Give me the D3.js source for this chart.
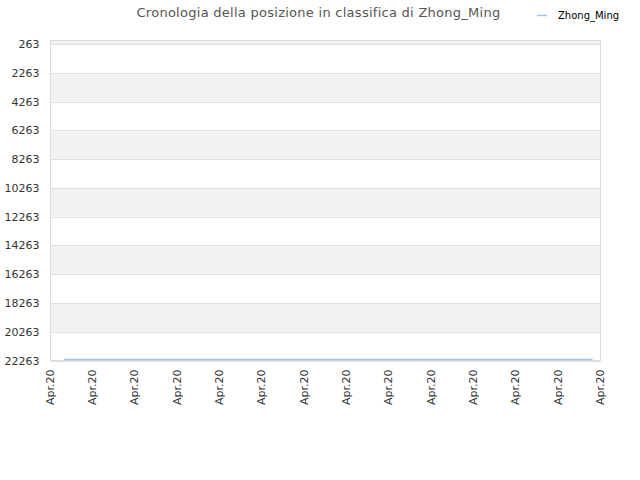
<!DOCTYPE html>
<html><head><meta charset="utf-8">
<script src="https://cdn.jsdelivr.net/npm/d3@7"></script>
<style>body{margin:0;background:#fff;}text{font-family:"DejaVu Sans",sans-serif;}</style>
</head><body><svg id="c" width="640" height="480"></svg>
<script>
const title = "Cronologia della posizione in classifica di Zhong_Ming";
const seriesName = "Zhong_Ming";
const dates = ["2020-04-01T15:00","2020-04-02T15:00","2020-04-03T15:00","2020-04-04T15:00","2020-04-05T15:00","2020-04-06T15:00","2020-04-07T15:00","2020-04-08T15:00","2020-04-09T15:00","2020-04-10T15:00","2020-04-11T15:00","2020-04-12T15:00","2020-04-13T15:00","2020-04-14T15:00","2020-04-15T15:00","2020-04-16T15:00","2020-04-17T15:00","2020-04-18T15:00","2020-04-19T15:00","2020-04-20T15:00","2020-04-21T15:00","2020-04-22T15:00","2020-04-23T15:00","2020-04-24T15:00","2020-04-25T15:00","2020-04-26T15:00"];
const ranks = [22190,22190,22190,22190,22190,22190,22190,22190,22190,22190,22190,22190,22190,22190,22190,22190,22190,22190,22190,22190,22190,22190,22190,22190,22190,22190];
const yTicks = [263,2263,4263,6263,8263,10263,12263,14263,16263,18263,20263,22263];
const xTickLabels = ["Apr.20","Apr.20","Apr.20","Apr.20","Apr.20","Apr.20","Apr.20","Apr.20","Apr.20","Apr.20","Apr.20","Apr.20","Apr.20","Apr.20"];
const xStart = "2020-04-01T00:00", xEnd = "2020-04-27T00:00";

const svg = d3.select("#c");
const L=50.5, R=600.5, T=40.5, B=360.5;
const parse = d3.isoParse;
const x = d3.scaleTime().domain([parse(xStart), parse(xEnd)]).range([L,R]);
const y = d3.scaleLinear().domain([13,22263]).range([T,B]);
const data = dates.map((d,i)=>({d:parse(d), v:ranks[i]}));

// bands
const bandEdges = [13].concat(yTicks);
for(let i=0;i<bandEdges.length-1;i++){
  svg.append("rect").attr("x",L).attr("width",R-L)
    .attr("y",y(bandEdges[i])).attr("height",y(bandEdges[i+1])-y(bandEdges[i]))
    .attr("fill", i%2===0 ? "#f2f2f2" : "#ffffff");
}
// grid
svg.append("g").selectAll("line").data(yTicks).join("line")
  .attr("x1",L).attr("x2",R).attr("y1",d=>Math.round(y(d))+0.5).attr("y2",d=>Math.round(y(d))+0.5)
  .attr("stroke","#e0e0e0");
// border
svg.append("rect").attr("x",L).attr("y",T).attr("width",R-L).attr("height",B-T)
  .attr("fill","none").attr("stroke","#dcdcdc");

// y axis labels
const yAxis = d3.axisLeft(y).tickValues(yTicks).tickSize(0).tickPadding(11).tickFormat(d3.format("d"));
const gy = svg.append("g").attr("transform",`translate(${L},0)`).call(yAxis);
gy.select(".domain").remove();
gy.selectAll("text").attr("font-size",11).attr("fill","#333").attr("font-family","DejaVu Sans");

// x axis
const xTicks = d3.range(xTickLabels.length).map(i=>x.invert(L + i*(R-L)/(xTickLabels.length-1)));
const xAxis = d3.axisBottom(x).tickValues(xTicks).tickSize(0).tickFormat((d,i)=>xTickLabels[i]);
const gx = svg.append("g").attr("transform",`translate(0,${B})`).call(xAxis);
gx.select(".domain").remove();
gx.selectAll("text").attr("font-size",11).attr("fill","#333").attr("font-family","DejaVu Sans")
  .attr("text-anchor","end").attr("transform","rotate(-90)").attr("x",-9).attr("y",-1).attr("dy","0.35em");

// line
svg.append("path").datum(data).attr("fill","none").attr("stroke","#a0c4ee").attr("stroke-width",1.5)
  .attr("d", d3.line().x(d=>x(d.d)).y(d=>y(d.v)));

// title
svg.append("text").attr("x",318.5).attr("y",17).attr("text-anchor","middle")
  .attr("font-size",13).attr("letter-spacing",0.27).attr("fill","#555").text(title);
// legend
svg.append("line").attr("x1",537).attr("x2",547).attr("y1",15.5).attr("y2",15.5).attr("stroke","#a0c4ee").attr("stroke-width",1.5);
svg.append("text").attr("x",558).attr("y",19).attr("font-size",10).attr("fill","#000").text(seriesName);
</script></body></html>
